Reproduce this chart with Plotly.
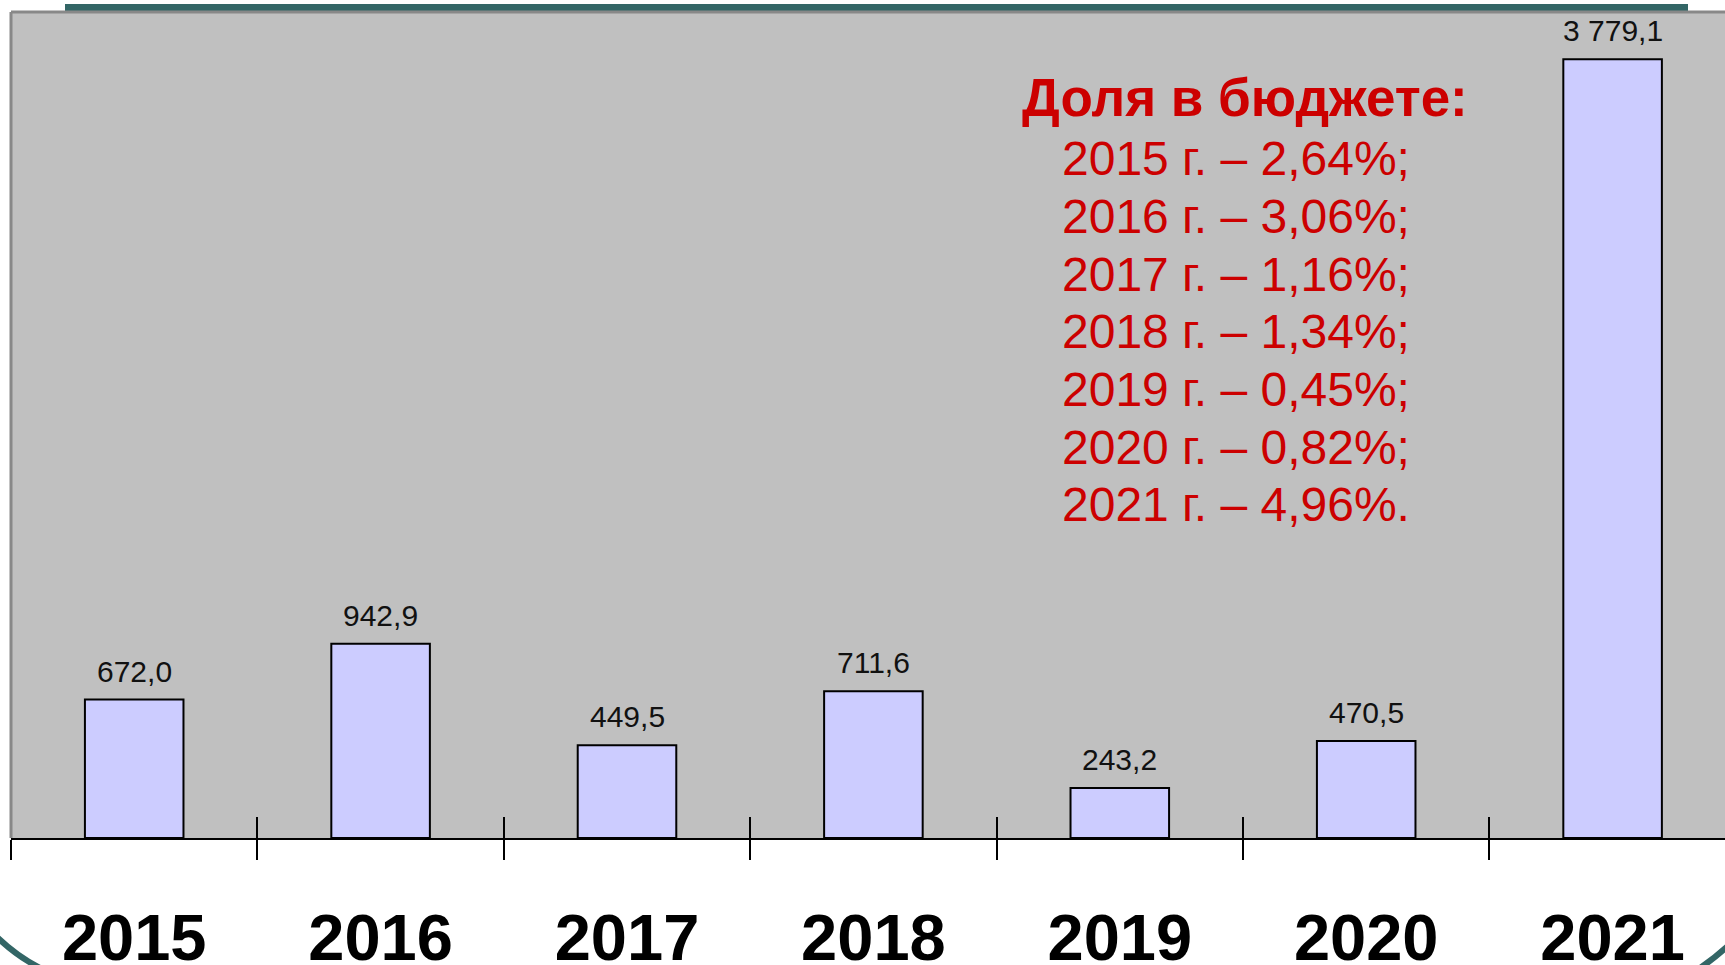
import plotly.graph_objects as go

years = ["2015", "2016", "2017", "2018", "2019", "2020", "2021"]
values = [672.0, 942.9, 449.5, 711.6, 243.2, 470.5, 3779.1]
value_labels = ["672,0", "942,9", "449,5", "711,6", "243,2", "470,5", "3 779,1"]
share_title = "Доля в бюджете:"
share_pct = ["2,64%;", "3,06%;", "1,16%;", "1,34%;", "0,45%;", "0,82%;", "4,96%."]

W, H = 1725, 965
L, T, B = 11, 12, 838  # plot area pixel edges
PW, PH = W - L, B - T
FONT = "Arial, Liberation Sans, sans-serif"


def px(x):
    return (x - L) / PW


def py(y):
    return (B - y) / PH


fig = go.Figure()
fig.add_trace(go.Bar(
    x=years, y=values, width=0.4,
    marker=dict(color="#CCCCFF", line=dict(color="#000000", width=2)),
    hoverinfo="skip", showlegend=False,
))
# helper trace for second (inside-tick) axis
fig.add_trace(go.Scatter(x=years, y=values, xaxis="x2", mode="none",
                         hoverinfo="skip", showlegend=False))

annotations = []
for i, (v, lab) in enumerate(zip(values, value_labels)):
    annotations.append(dict(
        x=i, y=v, xref="x", yref="y", text=lab, showarrow=False,
        yanchor="bottom", xanchor="center", yshift=10,
        font=dict(family=FONT, size=30, color="#111111"),
    ))

annotations.append(dict(
    x=px(1020), y=py(98), xref="paper", yref="paper", text="<b>" + share_title + "</b>",
    showarrow=False, xanchor="left", yanchor="middle",
    font=dict(family=FONT, size=53, color="#CC0000"),
))
for i, (yr, p) in enumerate(zip(years, share_pct)):
    annotations.append(dict(
        x=px(1060), y=py(159 + i * 57.6), xref="paper", yref="paper",
        text=f"{yr} г. – {p}", showarrow=False, xanchor="left", yanchor="middle",
        font=dict(family=FONT, size=48, color="#CC0000"),
    ))

cat_w = 246.4
xr = [-0.5, -0.5 + PW / cat_w]

shapes = [
    # teal strip on top
    dict(type="rect", xref="paper", yref="paper", x0=px(65), x1=px(1688), y0=py(12), y1=py(4),
         fillcolor="#336666", line=dict(width=0), layer="above"),
    # grey frame edges
    dict(type="line", xref="paper", yref="paper", x0=0, x1=1, y0=1, y1=1,
         line=dict(color="#888888", width=3)),
    dict(type="line", xref="paper", yref="paper", x0=0, x1=0, y0=0, y1=1,
         line=dict(color="#888888", width=3)),
    # decorative arcs at bottom corners
    dict(type="path", xref="paper", yref="paper",
         path=f"M {px(-5)},{py(935)} Q {px(15)},{py(955)} {px(40)},{py(968)}",
         line=dict(color="#336666", width=6)),
    dict(type="path", xref="paper", yref="paper",
         path=f"M {px(1700)},{py(968)} Q {px(1715)},{py(958)} {px(1730)},{py(944)}",
         line=dict(color="#336666", width=6)),
]

fig.update_layout(
    width=W, height=H,
    margin=dict(l=L, r=0, t=T, b=H - B, pad=0, autoexpand=False),
    paper_bgcolor="#FFFFFF", plot_bgcolor="#C0C0C0",
    bargap=0.6,
    xaxis=dict(type="category", range=xr, tickson="boundaries", ticks="outside",
               ticklen=20, tickwidth=1.5, tickcolor="#000000",
               showline=True, linecolor="#000000", linewidth=1.5,
               showgrid=False, zeroline=False, automargin=False,
               tickfont=dict(family=FONT, size=65, color="#000000", weight="bold"),
               ticklabelstandoff=42),
    xaxis2=dict(type="category", overlaying="x", side="bottom", range=xr,
                tickson="boundaries", ticks="inside", ticklen=21, tickwidth=1.5,
                tickcolor="#000000", showticklabels=False, showgrid=False,
                showline=False, zeroline=False, automargin=False),
    yaxis=dict(range=[0, 4008], showticklabels=False, ticks="", showline=False,
               showgrid=False, zeroline=False, automargin=False),
    annotations=annotations, shapes=shapes,
)

fig.write_html(
    "out.html",
    config={"displayModeBar": False},
    post_script="document.body.style.margin='0';document.body.style.overflow='hidden';",
)
